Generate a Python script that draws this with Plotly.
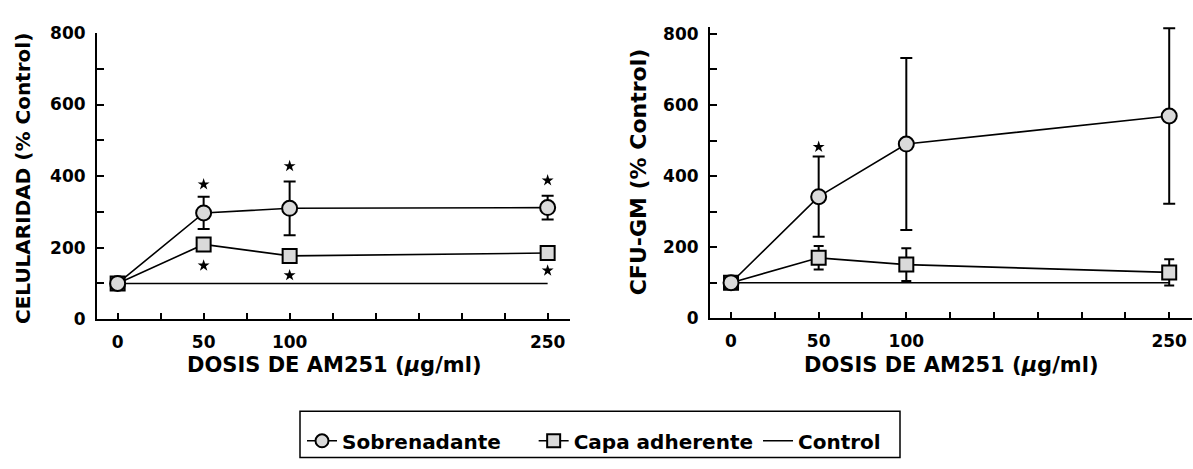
import plotly.graph_objects as go

# ---- data ----
doses = [0, 50, 100, 250]
control = [100, 100, 100, 100]

cel_sobre = [100, 297, 310, 312]
cel_sobre_err = [0, 45, 75, 33]
cel_capa = [100, 209, 177, 185]
cel_capa_err = [0, 8, 14, 8]
cel_star_x = [50, 100, 250, 50, 100, 250]
cel_star_y = [377, 428, 388, 150, 123, 136]

cfu_sobre = [100, 342, 490, 569]
cfu_sobre_err = [0, 113, 242, 247]
cfu_capa = [100, 170, 151, 129]
cfu_capa_err = [0, 33, 46, 37]
cfu_star_x = [50]
cfu_star_y = [482]

x_ticks = [0, 50, 100, 250]
y_ticks = [0, 200, 400, 600, 800]

FONT = "DejaVu Sans"
W, H = 1193, 469
FILL = "#dadada"

fig = go.Figure()


def add_panel(xa, ya, sobre, sobre_err, capa, capa_err, sx, sy):
    fig.add_trace(go.Scatter(
        x=doses, y=control, mode="lines", name="Control",
        line=dict(color="black", width=1.6), xaxis=xa, yaxis=ya,
        showlegend=False))
    fig.add_trace(go.Scatter(
        x=doses, y=capa, mode="lines+markers", name="Capa adherente",
        line=dict(color="black", width=1.6),
        marker=dict(symbol="square", size=14, color=FILL,
                    line=dict(color="black", width=2)),
        error_y=dict(type="data", array=capa_err, color="black",
                     thickness=2, width=5),
        xaxis=xa, yaxis=ya, showlegend=False, cliponaxis=False))
    fig.add_trace(go.Scatter(
        x=doses, y=sobre, mode="lines+markers", name="Sobrenadante",
        line=dict(color="black", width=1.6),
        marker=dict(symbol="circle", size=15, color=FILL,
                    line=dict(color="black", width=2)),
        error_y=dict(type="data", array=sobre_err, color="black",
                     thickness=2, width=6),
        xaxis=xa, yaxis=ya, showlegend=False, cliponaxis=False))
    fig.add_trace(go.Scatter(
        x=sx, y=sy, mode="markers",
        marker=dict(symbol="star", size=9, color="black"),
        xaxis=xa, yaxis=ya, showlegend=False, hoverinfo="skip",
        cliponaxis=False))


add_panel("x", "y", cel_sobre, cel_sobre_err, cel_capa, cel_capa_err,
          cel_star_x, cel_star_y)
add_panel("x2", "y2", cfu_sobre, cfu_sobre_err, cfu_capa, cfu_capa_err,
          cfu_star_x, cfu_star_y)

# legend-only traces
fig.add_trace(go.Scatter(
    x=[None], y=[None], mode="lines+markers", name="Sobrenadante    ",
    line=dict(color="black", width=1.6),
    marker=dict(symbol="circle", size=13, color=FILL,
                line=dict(color="black", width=2))))
fig.add_trace(go.Scatter(
    x=[None], y=[None], mode="lines+markers", name="Capa adherente",
    line=dict(color="black", width=1.6),
    marker=dict(symbol="square", size=13, color=FILL,
                line=dict(color="black", width=2))))
fig.add_trace(go.Scatter(
    x=[None], y=[None], mode="lines", name="Control",
    line=dict(color="black", width=1.6)))


def px_x(p):
    return p / W


def px_y(p):
    return 1 - p / H


tickfont = dict(family=FONT, size=17, color="black", weight="bold")
xcommon = dict(
    range=[-12, 263], tickmode="array", tickvals=x_ticks,
    ticks="inside", ticklen=6, tickwidth=1.5, tickcolor="black",
    showline=True, linecolor="black", linewidth=2, showgrid=False,
    zeroline=False, tickfont=tickfont, ticklabelstandoff=6,
    minor=dict(tick0=0, dtick=25, ticks="inside", ticklen=6,
               tickwidth=1.5, tickcolor="black"),
)
ycommon = dict(
    tickmode="array", tickvals=y_ticks,
    ticks="inside", ticklen=7, tickwidth=1.5, tickcolor="black",
    showline=True, linecolor="black", linewidth=2, showgrid=False,
    zeroline=False, ticklabelstandoff=6, tickfont=tickfont,
    minor=dict(tick0=0, dtick=100, ticks="inside", ticklen=7,
               tickwidth=1.5, tickcolor="black"),
)

fig.update_layout(
    width=W, height=H,
    margin=dict(l=0, r=0, t=0, b=0),
    paper_bgcolor="white", plot_bgcolor="white",
    xaxis=dict(domain=[px_x(97), px_x(570)], anchor="y", **xcommon),
    yaxis=dict(domain=[px_y(323), px_y(24)], anchor="x", range=[0, 800],
               **ycommon),
    xaxis2=dict(domain=[px_x(710), px_x(1192)], anchor="y2", **xcommon),
    yaxis2=dict(domain=[px_y(322), px_y(17.5)], anchor="x2",
                range=[0, 820], **ycommon),
    legend=dict(orientation="h", x=px_x(302), y=px_y(450), xanchor="left",
                yanchor="middle", borderwidth=0, bgcolor="rgba(0,0,0,0)",
                font=dict(family=FONT, size=20, color="black",
                          weight="bold"),
                itemwidth=30, traceorder="normal"),
    showlegend=True,
)

# legend frame
fig.add_shape(type="rect", xref="paper", yref="paper",
              x0=px_x(300), x1=px_x(900), y0=px_y(467.5), y1=px_y(419),
              line=dict(color="black", width=1.5))

title_font = dict(family=FONT, size=21, color="black", weight="bold")
fig.add_annotation(text="DOSIS DE AM251 (<i>μ</i>g/ml)",
                   x=px_x(333.5), y=px_y(371), xref="paper", yref="paper",
                   xanchor="center", yanchor="middle",
                   showarrow=False, font=title_font)
fig.add_annotation(text="DOSIS DE AM251 (<i>μ</i>g/ml)",
                   x=px_x(951), y=px_y(371), xref="paper", yref="paper",
                   xanchor="center", yanchor="middle",
                   showarrow=False, font=title_font)
fig.add_annotation(text="CELULARIDAD (% Control)", x=px_x(23.5),
                   y=px_y(176), xref="paper", yref="paper",
                   xanchor="center", yanchor="middle",
                   showarrow=False, textangle=-90,
                   font=dict(family=FONT, size=20, color="black",
                             weight="bold"))
fig.add_annotation(text="CFU-GM (% Control)", x=px_x(638.5),
                   y=px_y(169), xref="paper", yref="paper",
                   xanchor="center", yanchor="middle",
                   showarrow=False, textangle=-90,
                   font=dict(family=FONT, size=22, color="black",
                             weight="bold"))

fig.write_html("out.html")
